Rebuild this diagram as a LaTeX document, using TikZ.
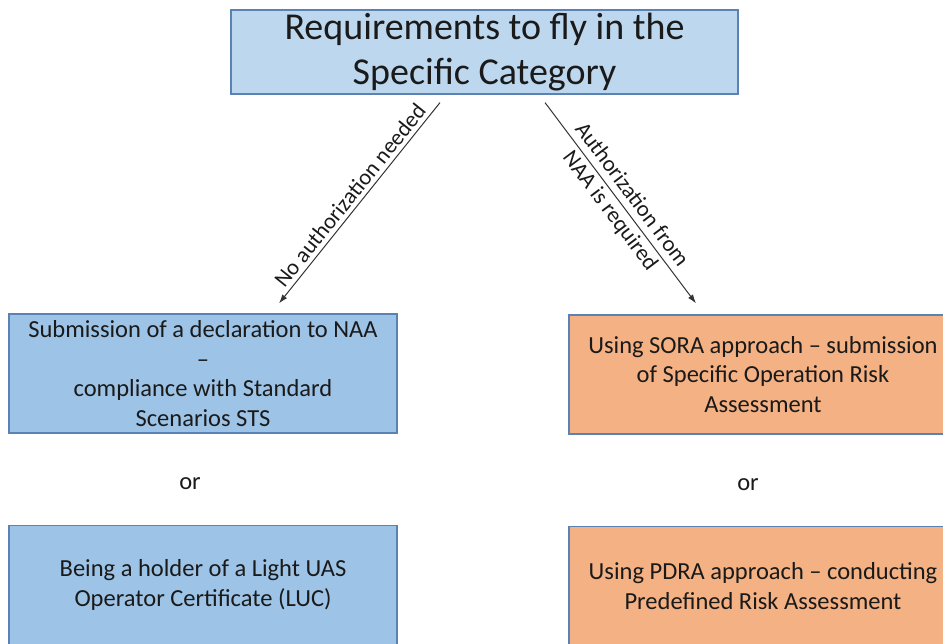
\documentclass[tikz,border=0pt]{standalone}
\usepackage{fontspec}
\setmainfont{Carlito}
\usetikzlibrary{arrows.meta}
\definecolor{titlefill}{HTML}{BDD7EE}
\definecolor{bluefill}{HTML}{9DC3E6}
\definecolor{orangefill}{HTML}{F4B183}
\definecolor{boxline}{HTML}{5B82B5}
\definecolor{textcol}{HTML}{1A1A1A}

\begin{document}
\begin{tikzpicture}[x=1pt, y=-1pt,
  box/.style={draw=boxline, line width=1.2pt, minimum width=388pt, minimum height=119pt,
    align=center, inner sep=0pt, text=textcol, font=\fontsize{24.5}{29.5}\selectfont},
  arrowline/.style={draw=black!80, line width=1pt, -{Latex[length=9pt, width=6pt]}},
  steplabel/.style={text=textcol, align=center, inner sep=4pt, font=\fontsize{22.5}{27}\selectfont}]
\useasboundingbox (0, 0) rectangle (943, 644);
\clip (0, 0) rectangle (943, 644);
% top box
\node [box, fill=titlefill, minimum width=507pt, minimum height=84pt, font=\fontsize{38}{45}\selectfont] (top) at (484.5, 52) {Requirements to fly in the\\Specific Category};
% left column
\node [box, fill=bluefill] (decl) at (203, 373.5) {Submission of a declaration to NAA\\–\\compliance with Standard\\Scenarios STS};
\node [text=textcol, font=\fontsize{24.5}{29.5}\selectfont] (orleft) at (190, 484) {or};
\node [box, fill=bluefill] (luc) at (203, 585) {Being a holder of a Light UAS\\Operator Certificate (LUC)};
% right column
\node [box, fill=orangefill] (sora) at (763, 374.5) {Using SORA approach – submission\\of Specific Operation Risk\\Assessment};
\node [text=textcol, font=\fontsize{24.5}{29.5}\selectfont] (orright) at (748, 485) {or};
\node [box, fill=orangefill] (pdra) at (763, 586) {Using PDRA approach – conducting\\Predefined Risk Assessment};
% arrows
\draw [arrowline] ([xshift=-44.5pt, yshift=-8pt]top.south) -- node[sloped, above, steplabel]{No authorization needed} ([xshift=76pt, yshift=10pt]decl.north);
\draw [arrowline] ([xshift=60.5pt, yshift=-8pt]top.south) -- node[sloped, steplabel]{Authorization from\\NAA is required} ([xshift=-67pt, yshift=11pt]sora.north);
\end{tikzpicture}
\end{document}
